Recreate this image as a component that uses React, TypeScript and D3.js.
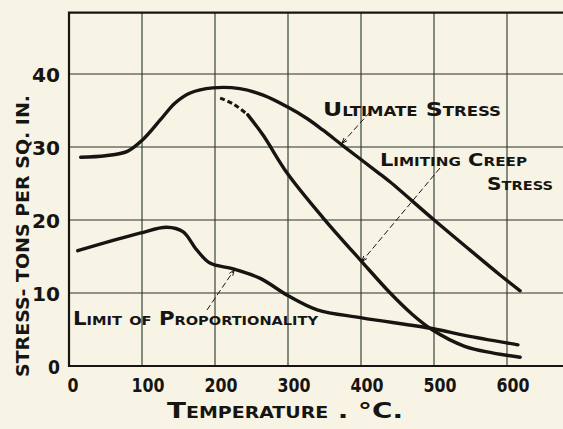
import { useMemo } from "react";
import * as d3 from "d3";

// temperature (deg C) / stress (tons per sq. in.)
const ultimateTemp = [16, 50, 80, 101, 125, 145, 166, 197, 234, 266, 299, 326, 348, 375, 422, 440, 499, 549, 590, 618];
const ultimateStress = [28.6, 28.8, 29.4, 31.0, 33.7, 36.0, 37.4, 38.1, 38.0, 37.1, 35.5, 33.9, 32.3, 30.2, 26.6, 25.2, 20.1, 15.9, 12.5, 10.3];

const creepDashTemp = [207, 225, 245];
const creepDashStress = [36.7, 35.9, 34.4];
const creepTemp = [245, 266, 299, 348, 401, 440, 470, 497, 542, 580, 618];
const creepStress = [34.4, 31.6, 26.4, 20.3, 14.3, 10.0, 7.1, 5.0, 2.7, 1.8, 1.2];

const propTemp = [12, 97, 134, 156, 175, 193, 225, 262, 299, 340, 401, 499, 542, 615];
const propStress = [15.8, 18.2, 19.0, 18.4, 15.9, 14.1, 13.3, 12.0, 9.7, 7.7, 6.6, 5.1, 4.2, 2.9];

const xTicks = [0, 100, 200, 300, 400, 500, 600];
const yTicks = [0, 10, 20, 30, 40];

const W = 563;
const H = 429;
const ink = "#161512";
const paper = "#f8f4e5";
const hand = "'DejaVu Sans Condensed', 'DejaVu Sans', sans-serif";

export default function App() {
  const x = useMemo(() => d3.scaleLinear().domain([0, 600]).range([69, 507]), []);
  const y = useMemo(() => d3.scaleLinear().domain([0, 40]).range([366, 74]), []);

  const line = d3.line<number>().curve(d3.curveCatmullRom.alpha(0.5));

  const path = (ts: number[], ss: number[]) =>
    line.x((_, i) => x(ts[i])).y((_, i) => y(ss[i]))(ts) || "";

  const top = y(48.4);
  const arrow = (x1: number, y1: number, x2: number, y2: number) => {
    const a = Math.atan2(y2 - y1, x2 - x1);
    const l = 6;
    return `M${x2 - l * Math.cos(a - 0.35)},${y2 - l * Math.sin(a - 0.35)}L${x2},${y2}L${
      x2 - l * Math.cos(a + 0.35)
    },${y2 - l * Math.sin(a + 0.35)}`;
  };

  // leader lines: label end -> point on the curve
  const leaders = [
    [370, 112, x(375) - 1, y(30.2) - 2],
    [440, 168, x(401), y(14.3)],
    [207, 310, x(225) + 1, y(13.3) + 1],
  ];

  return (
    <svg
      width={W}
      height={H}
      style={{ position: "absolute", left: 0, top: 0, background: paper, display: "block" }}
    >
      <rect width={W} height={H} fill={paper} />
      {/* grid */}
      {xTicks.map((t) => (
        <line key={"gx" + t} x1={x(t)} x2={x(t)} y1={top} y2={y(0)} stroke="#26332a" strokeWidth={1.1} />
      ))}
      {yTicks.map((t) => (
        <line key={"gy" + t} x1={x(0)} x2={W + 5} y1={y(t)} y2={y(t)} stroke="#26332a" strokeWidth={1.1} />
      ))}
      {/* frame */}
      <path d={`M${W + 5},${top}H${x(0)}V${y(0)}H${W + 5}`} fill="none" stroke={ink} strokeWidth={2.2} />

      {/* curves */}
      <g fill="none" stroke={ink} strokeWidth={3.4} strokeLinecap="round">
        <path d={path(ultimateTemp, ultimateStress)} />
        <path d={path(creepTemp, creepStress)} />
        <path d={path(propTemp, propStress)} />
      </g>
      <path
        d={path(creepDashTemp, creepDashStress)}
        fill="none"
        stroke={ink}
        strokeWidth={3}
        strokeDasharray="5 3"
      />

      {/* leaders */}
      <g stroke={ink} strokeWidth={1} fill="none">
        {leaders.map(([x1, y1, x2, y2], i) => (
          <g key={"ld" + i}>
            <line x1={x1} y1={y1} x2={x2} y2={y2} strokeDasharray="6 3" />
            <path d={arrow(x1, y1, x2, y2)} />
          </g>
        ))}
      </g>

      {/* annotations */}
      <g fill={ink} fontFamily={hand} fontWeight={600} style={{ fontVariant: "small-caps" }}>
        <text x={323} y={116} fontSize={20} textLength={178} lengthAdjust="spacingAndGlyphs">
          Ultimate Stress
        </text>
        <text x={380} y={166} fontSize={18} textLength={147} lengthAdjust="spacingAndGlyphs">
          Limiting Creep
        </text>
        <text x={487} y={190} fontSize={18} textLength={66} lengthAdjust="spacingAndGlyphs">
          Stress
        </text>
        <text x={73} y={325} fontSize={19} textLength={245} lengthAdjust="spacingAndGlyphs">
          Limit of Proportionality
        </text>
      </g>

      {/* tick labels */}
      <g fill={ink} fontFamily={hand} fontWeight={600} fontSize={20}>
        {xTicks.map((t) => (
          <text
            key={"tx" + t}
            x={x(t) + (t === 0 ? 4 : 6)}
            y={392}
            textAnchor="middle"
            textLength={t === 0 ? 11 : 33}
            lengthAdjust="spacingAndGlyphs"
          >
            {t}
          </text>
        ))}
        {yTicks.map((t) => (
          <text
            key={"ty" + t}
            x={60}
            y={y(t) + 8}
            textAnchor="end"
            textLength={t === 0 ? 12 : 28}
            lengthAdjust="spacingAndGlyphs"
          >
            {t}
          </text>
        ))}
      </g>

      {/* axis titles */}
      <text
        x={167}
        y={418}
        fill={ink}
        fontFamily={hand}
        fontWeight={600}
        fontSize={22}
        textLength={236}
        lengthAdjust="spacingAndGlyphs"
        style={{ fontVariant: "small-caps" }}
      >
        Temperature . °C.
      </text>
      <text
        transform={`translate(29,377) rotate(-90)`}
        fill={ink}
        fontFamily={hand}
        fontWeight={600}
        fontSize={17}
        textLength={282}
        lengthAdjust="spacingAndGlyphs"
      >
        STRESS- TONS PER SQ. IN.
      </text>
    </svg>
  );
}
